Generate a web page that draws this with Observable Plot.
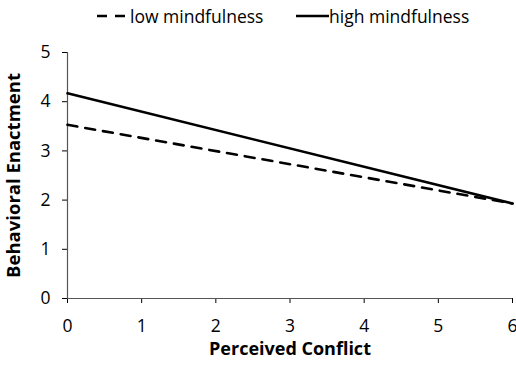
<!DOCTYPE html>
<html><head><meta charset="utf-8">
<script src="https://cdn.jsdelivr.net/npm/d3@7"></script>
<script src="https://cdn.jsdelivr.net/npm/@observablehq/plot@0.6"></script>
<style>
body{margin:0;background:#fff;font-family:"Open Sans",Lato,sans-serif;}
#legend{height:34px;position:relative;font-size:17.5px;color:#000;}
#legend .item{position:absolute;top:4px;display:flex;align-items:center;white-space:nowrap;}
#chart svg{display:block;}
</style></head>
<body>
<div id="legend"></div>
<div id="chart"></div>
<script>
const conflict = [0, 6];
const lowMindfulness = [3.53, 1.93];
const highMindfulness = [4.17, 1.93];
const seriesNames = ["low mindfulness", "high mindfulness"];
const xTicks = [0, 1, 2, 3, 4, 5, 6];
const yTicks = [0, 1, 2, 3, 4, 5];

const rows = [];
conflict.forEach((c, i) => {
  rows.push({x: c, y: lowMindfulness[i], s: seriesNames[0]});
  rows.push({x: c, y: highMindfulness[i], s: seriesNames[1]});
});

// legend
const legend = document.getElementById("legend");
const legendPos = [97, 296];
seriesNames.forEach((name, i) => {
  const d = document.createElement("div");
  d.className = "item";
  d.style.left = legendPos[i] + "px";
  const dash = i === 0 ? 'stroke-dasharray="10,8"' : '';
  d.innerHTML = `<svg width="33" height="10"><line x1="0" y1="5" x2="33" y2="5" stroke="#000" stroke-width="2.6" ${dash}/></svg><span>${name}</span>`;
  legend.appendChild(d);
});

const plot = Plot.plot({
  width: 516,
  height: 331,
  marginLeft: 67,
  marginRight: 4,
  marginTop: 18,
  marginBottom: 67,
  style: {fontFamily: '"Open Sans", Lato, sans-serif', fontSize: "17px", color: "#000", background: "#fff", overflow: "visible"},
  x: {domain: [0, 6]},
  y: {domain: [0, 5]},
  marks: [
    Plot.axisX({ticks: xTicks, tickSize: 5, tickPadding: 16, fontSize: 17.5, label: null, tickFormat: d => String(d)}),
    Plot.axisY({ticks: yTicks, tickSize: 5, tickPadding: 12, fontSize: 17.5, label: null, tickFormat: d => String(d)}),
    Plot.ruleX([0], {stroke: "#555", strokeWidth: 1.2}),
    Plot.ruleY([0], {stroke: "#555", strokeWidth: 1.2}),
    Plot.text(["Perceived Conflict"], {frameAnchor: "bottom", dy: 56, fontWeight: "bold", fontSize: 18}),
    Plot.text(["Behavioral Enactment"], {frameAnchor: "left", textAnchor: "middle", dx: -53, rotate: -90, fontWeight: "bold", fontSize: 18.5}),
    Plot.line(rows.filter(d => d.s === seriesNames[0]), {x: "x", y: "y", stroke: "#000", strokeWidth: 2.6, strokeDasharray: "10,8"}),
    Plot.line(rows.filter(d => d.s === seriesNames[1]), {x: "x", y: "y", stroke: "#000", strokeWidth: 2.6})
  ]
});
document.getElementById("chart").appendChild(plot);
</script>
</body></html>
